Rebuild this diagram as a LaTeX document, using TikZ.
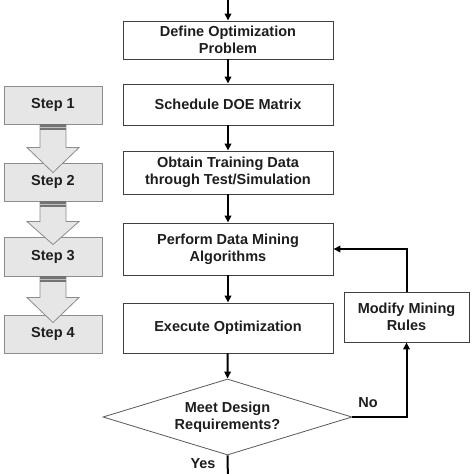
\documentclass[tikz,border=0pt]{standalone}
\usepackage{fontspec}
\setmainfont{Liberation Sans}
\usetikzlibrary{shapes.geometric,arrows.meta,calc}
\definecolor{stepfill}{HTML}{E6E6E6}
\definecolor{stepline}{HTML}{8C8C8C}
\definecolor{txt}{HTML}{1E1E1E}
\begin{document}
\begin{tikzpicture}[x=1pt,y=-1pt,
  lbl/.style={font=\bfseries\fontsize{14.5}{17}\selectfont, text=txt, align=center},
  flowbox/.style={lbl, draw=black!75, line width=0.9pt, fill=white, inner sep=0pt},
  stepbox/.style={lbl, draw=stepline, line width=0.9pt, fill=stepfill, inner sep=0pt,
    minimum width=98pt, minimum height=38pt},
  decision/.style={lbl, draw=black!65, line width=0.8pt, fill=white, shape=diamond,
    aspect=3.28, inner sep=0pt, minimum width=249pt, minimum height=76pt},
  flow/.style={draw=black, line width=2pt, -{Triangle[length=7pt,width=6.5pt]}},
  blockarrow/.style={draw=stepline, line width=0.8pt, fill=stepfill},
  bar/.style={fill=black!55, draw=none}]
\clip (0,0) rectangle (474,474);
\fill[white] (0,0) rectangle (474,474);

% main flow boxes
\node[flowbox, minimum width=210pt, minimum height=38pt] (def) at (228,40) {Define Optimization\\Problem};
\node[flowbox, minimum width=210pt, minimum height=41pt] (sched) at (228,104.5) {Schedule DOE Matrix};
\node[flowbox, minimum width=210pt, minimum height=43pt] (obt) at (228,172.5) {Obtain Training Data\\through Test/Simulation};
\node[flowbox, minimum width=210pt, minimum height=52pt] (perf) at (228,249) {Perform Data Mining\\Algorithms};
\node[flowbox, minimum width=210pt, minimum height=50pt] (exec) at (228,328) {Execute Optimization};
\node[decision] (dia) at (227.5,417) {Meet Design\\Requirements?};
\node[flowbox, minimum width=125pt, minimum height=50pt] (mod) at (406.5,317) {Modify Mining\\Rules};

\coordinate (top) at (228,-2);
\coordinate (bot) at (228,482);

\draw[flow] (top) -- (def.north);
\draw[flow] (def) -- (sched);
\draw[flow] (sched) -- (obt);
\draw[flow] (obt) -- (perf);
\draw[flow] (perf) -- (exec);
\draw[flow] (exec) -- (dia.north);
\draw[flow] (dia.south) -- (bot);
\draw[flow] (dia.east) -| (mod.south);
\draw[flow] (mod.north) |- (perf.east);

\node[lbl, anchor=center] (no) at (368,403) {No};
\node[lbl, anchor=center] (yes) at (203,464) {Yes};

% step boxes
\node[stepbox] (s1) at (53,105) {Step 1};
\node[stepbox] (s2) at (53,182) {Step 2};
\node[stepbox, minimum height=39pt] (s3) at (53,256.5) {Step 3};
\node[stepbox] (s4) at (53,334) {Step 4};

% block arrows between steps
\foreach \a/\b/\hb/\tp in {s1/s2/-15/10, s2/s3/-15/8, s3/s4/-17/8}{
  \coordinate (st) at (\a.south);
  \coordinate (hb) at ($(\b.north)+(0,\hb)$);
  \coordinate (tip) at ($(\b.north)+(0,\tp)$);
  \draw[blockarrow] ($(st)+(-13,0)$) -- ($(st)+(13,0)$) -- ($(hb)+(13,0)$) -- ($(hb)+(26,0)$)
     -- (tip) -- ($(hb)+(-26,0)$) -- ($(hb)+(-13,0)$) -- cycle;
  \fill[bar] ($(st)+(-13,0)$) rectangle ($(st)+(13,6)$);
  \fill[black!25] ($(st)+(-13,2.5)$) rectangle ($(st)+(13,3.5)$);
}
\end{tikzpicture}
\end{document}
